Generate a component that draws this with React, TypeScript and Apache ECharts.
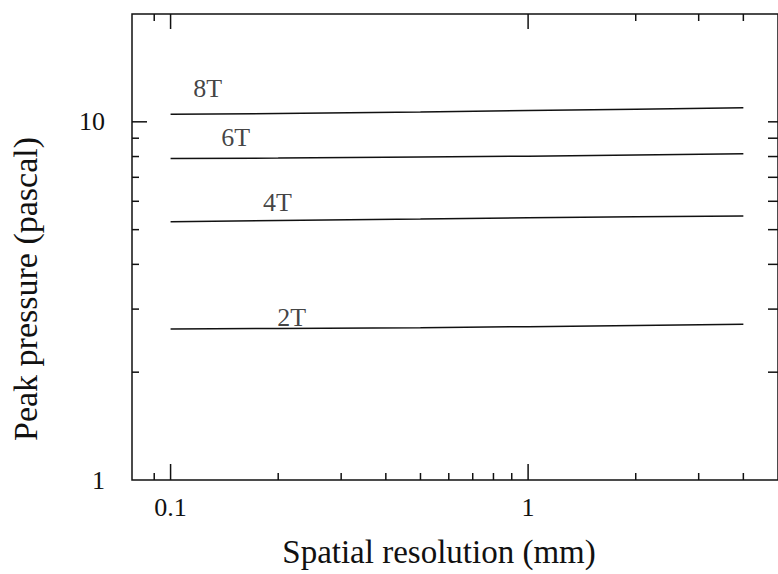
import React, { useEffect, useRef } from "react";
import * as echarts from "echarts";

// ---- Data ----
const X_MIN = 0.078;
const X_MAX = 5;
const Y_MIN = 1;
const Y_MAX = 20;

const xTickLabels = [
  { value: 0.1, text: "0.1" },
  { value: 1, text: "1" },
];
const yTickLabels = [
  { value: 1, text: "1" },
  { value: 10, text: "10" },
];

const resolution = [0.1, 0.2, 0.5, 1, 2, 4];
const pressure8T = [10.5, 10.55, 10.65, 10.75, 10.85, 10.95];
const pressure6T = [7.9, 7.92, 7.97, 8.02, 8.08, 8.14];
const pressure4T = [5.26, 5.3, 5.35, 5.4, 5.43, 5.46];
const pressure2T = [2.64, 2.65, 2.66, 2.68, 2.7, 2.72];

const seriesNames = ["8T", "6T", "4T", "2T"];
const seriesValues = [pressure8T, pressure6T, pressure4T, pressure2T];
// label anchor positions (data units)
const labelX = [0.127, 0.152, 0.199, 0.218];
const labelY = [12.37, 9.02, 5.96, 2.84];

// tick positions
const xMajorTicks = [0.1, 1];
const xMinorTicks = [0.09, 0.2, 0.3, 0.4, 0.5, 0.6, 0.7, 0.8, 0.9, 2, 3, 4];
const topMinorTicks = [0.09, 2, 3, 4];
const yMajorTicks = [10];
const yMinorTicks = [2, 3, 4, 5, 6, 7, 8, 9];
const rightTicks = [2, 3, 4, 5, 6, 7, 8, 9, 10];

const FONT = "Liberation Serif, Times New Roman, serif";
const INK = "#111";

function findLabel(list: { value: number; text: string }[], v: number) {
  const m = list.find(
    (l) => Math.abs(Math.log10(v) - Math.log10(l.value)) < 1e-6
  );
  return m ? m.text : "";
}

export default function App() {
  const ref = useRef<HTMLDivElement>(null);

  useEffect(() => {
    if (!ref.current) return;
    const chart = echarts.init(ref.current, undefined, { renderer: "svg" });

    // tick data: [x, y, length, direction] (0 up, 1 down, 2 right, 3 left)
    const tickData: number[][] = [
      ...xMajorTicks.map((v) => [v, Y_MIN, 16, 0]),
      ...xMinorTicks.map((v) => [v, Y_MIN, 7, 0]),
      ...xMajorTicks.map((v) => [v, Y_MAX, 15, 1]),
      ...topMinorTicks.map((v) => [v, Y_MAX, 7, 1]),
      ...yMajorTicks.map((v) => [X_MIN, v, 15, 2]),
      ...yMinorTicks.map((v) => [X_MIN, v, 7, 2]),
      ...rightTicks.map((v) => [X_MAX, v, 10, 3]),
    ];

    const lineSeries = seriesNames.map((name, i) => ({
      type: "line",
      name,
      data: resolution.map((x, j) => [x, seriesValues[i][j]]),
      showSymbol: false,
      symbol: "none",
      lineStyle: { color: INK, width: 1.5 },
      silent: true,
    }));

    const option: any = {
      animation: false,
      backgroundColor: "#fff",
      textStyle: { fontFamily: FONT },
      grid: {
        left: 131,
        top: 14,
        right: -6,
        bottom: 94,
        show: true,
        borderColor: INK,
        borderWidth: 1.5,
        backgroundColor: "transparent",
      },
      xAxis: {
        type: "log",
        logBase: 10,
        min: X_MIN,
        max: X_MAX,
        name: "Spatial resolution (mm)",
        nameLocation: "middle",
        nameGap: 55,
        nameTextStyle: {
          fontFamily: FONT,
          fontSize: 33,
          color: INK,
          padding: [0, 32, 0, 0],
        },
        axisLine: { show: false },
        axisTick: { show: false },
        splitLine: { show: false },
        axisLabel: {
          fontFamily: FONT,
          fontSize: 26,
          color: INK,
          margin: 14,
          showMinLabel: false,
          showMaxLabel: false,
          formatter: (v: number) => findLabel(xTickLabels, v),
        },
      },
      yAxis: {
        type: "log",
        logBase: 10,
        min: Y_MIN,
        max: Y_MAX,
        name: "Peak pressure (pascal)",
        nameLocation: "middle",
        nameGap: 90,
        nameRotate: 90,
        nameTextStyle: {
          fontFamily: FONT,
          fontSize: 34,
          color: INK,
          padding: [0, 84, 0, 0],
        },
        axisLine: { show: false },
        axisTick: { show: false },
        splitLine: { show: false },
        axisLabel: {
          fontFamily: FONT,
          fontSize: 26,
          color: INK,
          margin: 27,
          showMaxLabel: false,
          formatter: (v: number) => findLabel(yTickLabels, v),
        },
      },
      series: [
        ...lineSeries,
        {
          type: "scatter",
          name: "labels",
          symbolSize: 1,
          itemStyle: { color: "rgba(0,0,0,0)" },
          silent: true,
          data: seriesNames.map((n, i) => ({
            name: n,
            value: [labelX[i], labelY[i]],
          })),
          label: {
            show: true,
            position: "inside",
            formatter: "{b}",
            fontFamily: FONT,
            fontSize: 26,
            color: INK,
            textBorderWidth: 0,
          },
        },
        {
          type: "custom",
          name: "ticks",
          silent: true,
          clip: false,
          data: tickData,
          encode: { x: 0, y: 1 },
          renderItem: (params: any, api: any) => {
            const p = api.coord([api.value(0), api.value(1)]);
            const len = api.value(2);
            const dir = api.value(3);
            let x2 = p[0];
            let y2 = p[1];
            if (dir === 0) y2 -= len;
            else if (dir === 1) y2 += len;
            else if (dir === 2) x2 += len;
            else x2 -= len;
            return {
              type: "line",
              shape: { x1: p[0], y1: p[1], x2, y2 },
              style: { stroke: INK, lineWidth: 1.5 },
            };
          },
        },
      ],
    };

    chart.setOption(option);
    return () => chart.dispose();
  }, []);

  return (
    <div
      ref={ref}
      style={{
        position: "fixed",
        left: 0,
        top: 0,
        width: 778,
        height: 574,
        background: "#fff",
      }}
    />
  );
}
